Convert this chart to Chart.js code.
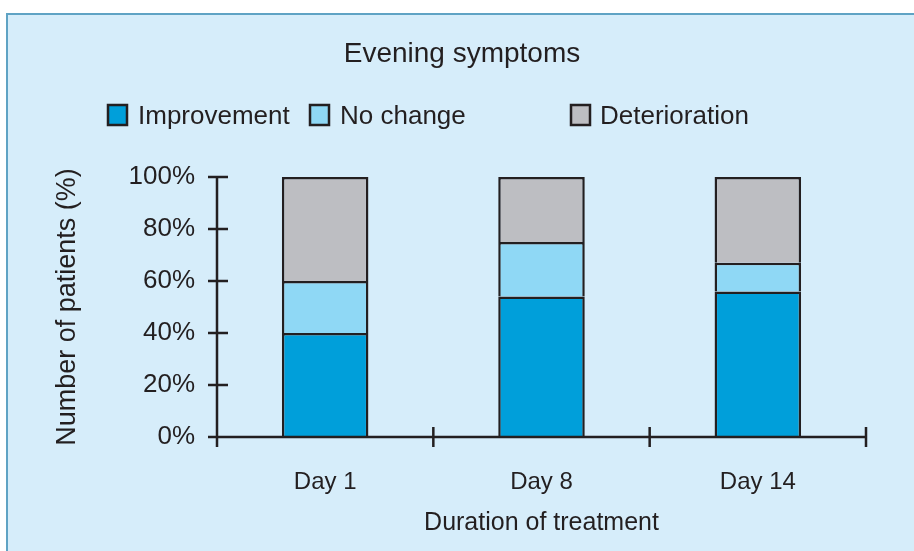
<!DOCTYPE html>
<html>
<head>
<meta charset="utf-8">
<script src="https://cdn.jsdelivr.net/npm/chart.js@4.4.1/dist/chart.umd.min.js"></script>
<style>
  html, body { margin: 0; padding: 0; background: #fff; }
  #wrap { width: 914px; height: 551px; }
</style>
</head>
<body>
<div id="wrap"><canvas id="chart" width="914" height="551"></canvas></div>
<script>
const days = ["Day 1", "Day 8", "Day 14"];
const improvement = [40, 54, 56];
const noChange = [20, 21, 11];
const deterioration = [40, 25, 33];
const yTicks = [0, 20, 40, 60, 80, 100];

const ink = "#231f20";
const font = "'Liberation Sans', Arial, sans-serif";

// legend slots: [box x, text x]
const legendSlots = [[108, 138], [310, 340], [571, 600]];

const panelPlugin = {
  id: "panel",
  beforeDraw(chart) {
    const ctx = chart.ctx;
    ctx.save();
    ctx.fillStyle = "#fff";
    ctx.fillRect(0, 0, chart.width, chart.height);
    ctx.fillStyle = "#d6edfa";
    ctx.fillRect(6, 13, chart.width - 6, chart.height - 13);
    ctx.strokeStyle = "#5fa3c4";
    ctx.lineWidth = 2;
    ctx.beginPath();
    ctx.moveTo(7, chart.height);
    ctx.lineTo(7, 14);
    ctx.lineTo(chart.width, 14);
    ctx.stroke();
    ctx.restore();
  },
  afterDraw(chart) {
    const ctx = chart.ctx;
    const x = chart.scales.x, y = chart.scales.y;
    const y0 = y.getPixelForValue(0);
    ctx.save();
    ctx.strokeStyle = ink;
    ctx.lineWidth = 2.5;
    ctx.beginPath();
    // axis lines
    ctx.moveTo(x.left, y.getPixelForValue(100));
    ctx.lineTo(x.left, y0 + 10);
    ctx.moveTo(x.left, y0);
    ctx.lineTo(x.right, y0);
    // y ticks crossing the axis
    yTicks.forEach(v => {
      const py = y.getPixelForValue(v);
      ctx.moveTo(x.left - 9, py);
      ctx.lineTo(x.left + 11, py);
    });
    // x ticks at category boundaries
    const step = (x.right - x.left) / days.length;
    for (let i = 0; i <= days.length; i++) {
      const px = x.getPixelForValue(0) - step / 2 + i * step;
      ctx.moveTo(px, y0 - 10);
      ctx.lineTo(px, y0 + 10);
    }
    ctx.stroke();

    // title
    ctx.fillStyle = ink;
    ctx.font = "28px " + font;
    ctx.textAlign = "center";
    ctx.textBaseline = "alphabetic";
    ctx.fillText("Evening symptoms", 462, 62);

    // legend
    ctx.textAlign = "left";
    ctx.font = "26px " + font;
    chart.data.datasets.forEach((ds, i) => {
      const [bx, tx] = legendSlots[i];
      ctx.fillStyle = ds.backgroundColor;
      ctx.fillRect(bx, 105, 19, 20);
      ctx.strokeStyle = ink;
      ctx.lineWidth = 2.5;
      ctx.strokeRect(bx, 105, 19, 20);
      ctx.fillStyle = ink;
      ctx.fillText(ds.label, tx, 124);
    });
    ctx.restore();
  }
};

new Chart(document.getElementById("chart"), {
  type: "bar",
  data: {
    labels: days,
    datasets: [
      { label: "Improvement", data: improvement, backgroundColor: "#009fda" },
      { label: "No change", data: noChange, backgroundColor: "#8fd8f5" },
      { label: "Deterioration", data: deterioration, backgroundColor: "#bdbec2" },
    ].map(d => ({
      ...d,
      borderColor: ink,
      borderWidth: { top: 2.5, left: 2.5, right: 2.5, bottom: 0 },
      borderSkipped: false,
      inflateAmount: 0,
    })),
  },
  options: {
    responsive: false,
    animation: false,
    devicePixelRatio: 1,
    layout: { padding: { top: 177, left: 0, right: 48, bottom: 0 } },
    datasets: { bar: { barPercentage: 0.4, categoryPercentage: 1 } },
    plugins: { legend: { display: false }, title: { display: false }, tooltip: { enabled: false } },
    scales: {
      x: {
        stacked: true,
        grid: { display: false },
        border: { display: false },
        afterFit: s => { s.height = 114; },
        ticks: { color: ink, padding: 23, font: { family: font, size: 24 } },
        title: {
          display: true, text: "Duration of treatment", color: ink,
          font: { family: font, size: 25 }, padding: { top: 0, bottom: 13 },
        },
      },
      y: {
        stacked: true,
        min: 0, max: 100,
        grid: { display: false },
        border: { display: false },
        afterFit: s => { s.width = 217; },
        afterBuildTicks: s => { s.ticks = yTicks.map(v => ({ value: v })); },
        ticks: { color: ink, padding: 14, font: { family: font, size: 26 }, callback: v => v + "%" },
        title: {
          display: true, text: "Number of patients (%)", color: ink,
          font: { family: font, size: 27 }, padding: { top: 51, bottom: 0 },
        },
      },
    },
  },
  plugins: [panelPlugin],
});
</script>
</body>
</html>
